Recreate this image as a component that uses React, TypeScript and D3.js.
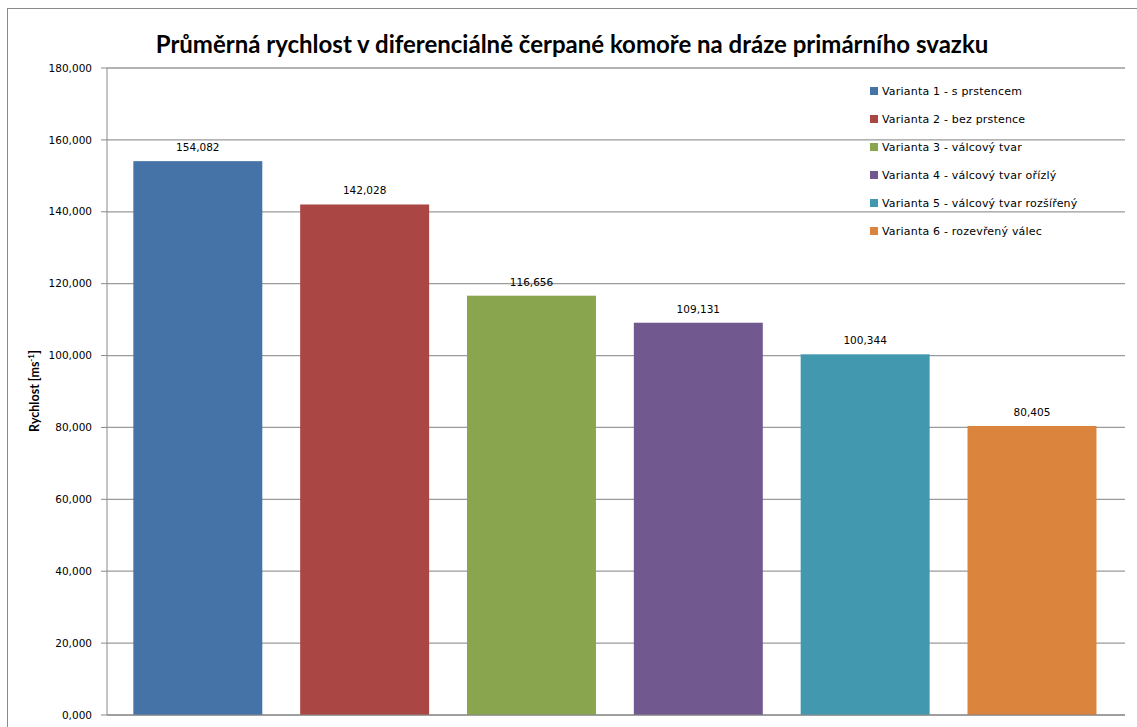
import React from "react";
import * as d3 from "d3";

const categories = [
  "Varianta 1 - s prstencem",
  "Varianta 2 - bez prstence",
  "Varianta 3 - válcový tvar",
  "Varianta 4  - válcový tvar ořízlý",
  "Varianta 5 - válcový tvar rozšířený",
  "Varianta 6 - rozevřený válec",
];
const values = [154.082, 142.028, 116.656, 109.131, 100.344, 80.405];
const colors = ["#4572A7", "#AA4643", "#89A54E", "#71588F", "#4198AF", "#DB843D"];
const yTicks = [0, 20, 40, 60, 80, 100, 120, 140, 160, 180];
const title = "Průměrná rychlost v diferenciálně čerpané komoře na dráze primárního svazku";

const W = 1137;
const H = 727;
const plotL = 107;
const plotR = 1125;
const plotT = 68;
const plotB = 715;

const fmt = (v: number) => v.toFixed(3).replace(".", ",");

export default function App() {
  const y = d3.scaleLinear().domain([0, 180]).range([plotB, plotT]);
  const x = d3
    .scaleBand<string>()
    .domain(categories)
    .range([114.4, 1115.4])
    .paddingInner(0.227)
    .paddingOuter(0.1135);
  const tickFont = "'DejaVu Sans', Verdana, sans-serif";
  return (
    <svg
      width={W}
      height={H}
      style={{ position: "absolute", left: 0, top: 0, background: "#fff" }}
    >
      <rect x={0} y={0} width={W} height={H} fill="#fff" />
      <rect x={7.5} y={8.5} width={W + 10} height={H + 10} fill="none" stroke="#8a8a8a" strokeWidth={1} />
      <text
        x={572}
        y={53}
        textAnchor="middle"
        fontFamily="Lato, 'Open Sans', sans-serif"
        fontWeight="bold"
        fontSize={24}
        fill="#000"
      >
        {title}
      </text>
      {yTicks.map((t) => (
        <g key={t}>
          <line x1={plotL} x2={plotR} y1={y(t)} y2={y(t)} stroke="#9a9a9a" strokeWidth={1.3} />
          <line x1={101} x2={plotL} y1={y(t)} y2={y(t)} stroke="#8a8a8a" strokeWidth={1} />
          <text
            x={92}
            y={y(t)}
            dy="0.35em"
            textAnchor="end"
            fontFamily={tickFont}
            fontSize={10.5}
            fill="#000"
          >
            {fmt(t)}
          </text>
        </g>
      ))}
      <line x1={plotL} x2={plotL} y1={plotT} y2={plotB} stroke="#8a8a8a" strokeWidth={1} />
      {categories.map((c, i) => {
        const bx = x(c) as number;
        const bw = x.bandwidth();
        return (
          <g key={c}>
            <rect x={bx} y={y(values[i])} width={bw} height={plotB - y(values[i])} fill={colors[i]} />
            <text
              x={bx + bw / 2}
              y={y(values[i]) - 10}
              textAnchor="middle"
              fontFamily={tickFont}
              fontSize={10.5}
              fill="#000"
            >
              {fmt(values[i])}
            </text>
          </g>
        );
      })}
      <line x1={plotL} x2={plotR} y1={plotB} y2={plotB} stroke="#8a8a8a" strokeWidth={1} />
      {categories.map((c, i) => (
        <g key={"lg" + c} transform={`translate(870, ${91 + i * 28})`}>
          <rect x={0} y={-4} width={8} height={8} fill={colors[i]} />
          <text
            x={12}
            y={0}
            dy="0.35em"
            fontFamily={tickFont}
            fontSize={11}
            letterSpacing={0.2}
            fill="#000"
          >
            {c}
          </text>
        </g>
      ))}
      <text
        transform={`translate(39, 391) rotate(-90)`}
        textAnchor="middle"
        fontFamily="Lato, 'Open Sans', sans-serif"
        fontWeight="bold"
        fontSize={12.5}
        fill="#000"
      >
        Rychlost [ms
        <tspan baselineShift="super" fontSize={8}>-1</tspan>
        ]
      </text>
    </svg>
  );
}
